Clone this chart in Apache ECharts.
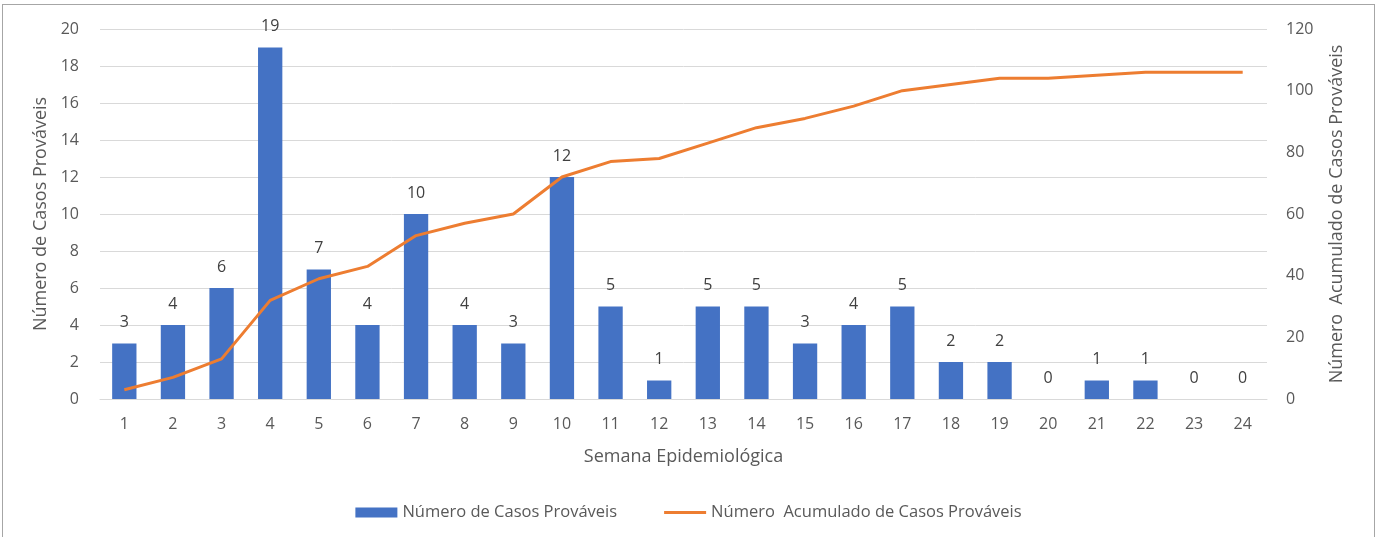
<!DOCTYPE html>
<html><head><meta charset="utf-8">
<script src="https://cdn.jsdelivr.net/npm/echarts@6/dist/echarts.min.js"></script>
<style>html,body{margin:0;padding:0;background:#fff}#c{box-sizing:border-box;border:1px solid #a6a6a6;border-bottom:none;position:absolute;left:2px;top:4px;width:1373px;height:533px}</style>
</head><body><div id="c"></div>
<script>
const weeks = ['1','2','3','4','5','6','7','8','9','10','11','12','13','14','15','16','17','18','19','20','21','22','23','24'];
const casos = [3,4,6,19,7,4,10,4,3,12,5,1,5,5,3,4,5,2,2,0,1,1,0,0];
const acumulado = [3,7,13,32,39,43,53,57,60,72,77,78,83,88,91,95,100,102,104,104,105,106,106,106];
const leftTicks = {min:0,max:20,interval:2};
const rightTicks = {min:0,max:120,interval:20};
const FONT = 'Open Sans';
const GRAY = '#595959';
const chart = echarts.init(document.getElementById('c'));
chart.setOption({
  animation:false,
  textStyle:{fontFamily:FONT},
  grid:{left:97,right:107,top:24,bottom:138,containLabel:false},
  legend:{bottom:11,left:'center',itemGap:47,textStyle:{fontFamily:FONT,fontSize:16.5,color:GRAY},
    symbolKeepAspect:true,
    data:[{name:'Número de Casos Prováveis',icon:'rect',itemStyle:{color:'#4472C4'}},
          {name:'Número  Acumulado de Casos Prováveis',icon:'path://M0,0L44,0L44,3L0,3Z',itemStyle:{color:'#ED7D31'}}],
    itemWidth:42,itemHeight:10},
  xAxis:{type:'category',data:weeks,
    name:'Semana Epidemiológica',nameLocation:'middle',nameGap:49,
    nameTextStyle:{fontFamily:FONT,fontSize:18,color:GRAY},
    axisLine:{lineStyle:{color:'#d9d9d9',width:1}},axisTick:{show:false},
    axisLabel:{fontFamily:FONT,fontSize:16,color:GRAY,margin:17}},
  yAxis:[{type:'value',min:leftTicks.min,max:leftTicks.max,interval:leftTicks.interval,
    name:'Número de Casos Prováveis',nameLocation:'middle',nameGap:47,nameRotate:90,
    nameTextStyle:{fontFamily:FONT,fontSize:18,color:GRAY},
    axisLine:{show:false},axisTick:{show:false},
    axisLabel:{fontFamily:FONT,fontSize:16,color:GRAY,margin:21},
    splitLine:{lineStyle:{color:'#d9d9d9',width:1}}},
   {type:'value',min:rightTicks.min,max:rightTicks.max,interval:rightTicks.interval,position:'right',
    name:'Número  Acumulado de Casos Prováveis',nameLocation:'middle',nameGap:61,nameRotate:90,
    nameTextStyle:{fontFamily:FONT,fontSize:18,color:GRAY},
    axisLine:{show:false},axisTick:{show:false},
    axisLabel:{fontFamily:FONT,fontSize:16,color:GRAY,margin:19},
    splitLine:{show:false}}],
  series:[
    {name:'Número de Casos Prováveis',type:'bar',data:casos,barWidth:'50%',
     itemStyle:{color:'#4472C4'},
     label:{show:true,position:'top',distance:13,fontFamily:FONT,fontSize:16,color:'#404040'}},
    {name:'Número  Acumulado de Casos Prováveis',type:'line',yAxisIndex:1,data:acumulado,
     symbol:'none',lineStyle:{color:'#ED7D31',width:3},itemStyle:{color:'#ED7D31'}}
  ]
});
</script></body></html>
